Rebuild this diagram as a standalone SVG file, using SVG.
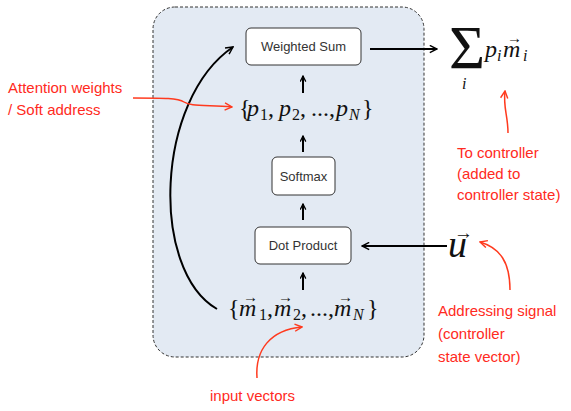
<svg xmlns="http://www.w3.org/2000/svg" width="571" height="411" viewBox="0 0 571 411">
<defs>
<marker id="ah" viewBox="0 0 10 10" refX="9" refY="5" markerWidth="9" markerHeight="9" markerUnits="userSpaceOnUse" orient="auto">
<path d="M1,1 L9,5 L1,9" fill="none" stroke="#000" stroke-width="1.6"/>
</marker>
<marker id="ahs" viewBox="0 0 10 10" refX="9" refY="5" markerWidth="7" markerHeight="7" markerUnits="userSpaceOnUse" orient="auto">
<path d="M1,1 L9,5 L1,9" fill="none" stroke="#000" stroke-width="1.8"/>
</marker>
<marker id="ahr" viewBox="0 0 10 10" refX="9" refY="5" markerWidth="9" markerHeight="9" markerUnits="userSpaceOnUse" orient="auto">
<path d="M1,1 L9,5 L1,9" fill="none" stroke="#ff3a1e" stroke-width="1.6"/>
</marker>
</defs>
<style>
.box{fill:#fff;stroke:#333;stroke-width:1}
.lbl{font-family:"Liberation Sans",Arial,sans-serif;font-size:13px;fill:#333;text-anchor:middle}
.red{font-family:"Liberation Sans",Arial,sans-serif;font-size:15px;fill:#ff2a22}
.m{font-family:"Liberation Serif","Times New Roman",serif;font-size:24px;fill:#111}
.mi{font-style:italic}
.sub{font-family:"Liberation Serif","Times New Roman",serif;font-size:16px;fill:#111}
.vec{font-family:"Liberation Serif","DejaVu Serif",serif;font-size:15px;fill:#111}
.c{fill:none;stroke:#000;stroke-width:2}
.cs{fill:none;stroke:#000;stroke-width:2}
.cr{fill:none;stroke:#ff3a1e;stroke-width:1.5}
</style>
<rect id="container" x="153" y="7" width="271" height="350" rx="22" ry="22" fill="#e3eaf3" stroke="#333" stroke-width="1" stroke-dasharray="3,2"/>

<g id="weighted-sum">
<rect class="box" x="246" y="28" width="115" height="37" rx="5"/>
<text class="lbl" x="303.5" y="51">Weighted Sum</text>
</g>
<g id="softmax">
<rect class="box" x="272" y="157" width="63" height="38" rx="5"/>
<text class="lbl" x="303.5" y="181">Softmax</text>
</g>
<g id="dot-product">
<rect class="box" x="255" y="227" width="96" height="37" rx="5"/>
<text class="lbl" x="303" y="250">Dot Product</text>
</g>

<g id="p-set">
<text class="m" x="239" y="116">{</text>
<text class="m mi" x="247" y="116">p</text>
<text class="sub" x="260" y="120">1</text>
<text class="m" x="268" y="116">,</text>
<text class="m mi" x="279" y="116">p</text>
<text class="sub" x="292" y="120">2</text>
<text class="m" x="300" y="116">,</text>
<text class="m" x="311" y="116">...,</text>
<text class="m mi" x="336" y="116">p</text>
<text class="sub mi" x="349" y="120">N</text>
<text class="m" x="362" y="116">}</text>
</g>

<g id="m-set">
<text class="m" x="228" y="316">{</text>
<text class="m mi" x="239" y="316">m</text>
<text class="vec" x="243" y="302">→</text>
<text class="sub" x="259" y="320">1</text>
<text class="m" x="267" y="316">,</text>
<text class="m mi" x="274" y="316">m</text>
<text class="vec" x="278" y="302">→</text>
<text class="sub" x="293" y="320">2</text>
<text class="m" x="301" y="316">,</text>
<text class="m" x="310" y="316">...,</text>
<text class="m mi" x="334" y="316">m</text>
<text class="vec" x="338" y="302">→</text>
<text class="sub mi" x="353" y="320">N</text>
<text class="m" x="367" y="316">}</text>
</g>

<g id="sum">
<text x="449" y="68" font-family="'Liberation Serif','Times New Roman',serif" font-size="62" fill="#111">Σ</text>
<text class="sub mi" x="462" y="89">i</text>
<text class="m mi" x="485" y="57">p</text>
<text class="sub mi" x="497" y="61">i</text>
<text class="m mi" x="503" y="57">m</text>
<text class="vec" x="507" y="43">→</text>
<text class="sub mi" x="523" y="61">i</text>
</g>

<g id="u-vec">
<text x="448" y="257" font-family="'Liberation Serif','Times New Roman',serif" font-style="italic" font-size="38" fill="#111">u</text>
<text x="454" y="239" font-family="'Liberation Serif','DejaVu Serif',serif" font-size="19" fill="#111">→</text>
</g>

<g id="connectors">
<path class="c" d="M370,49 L437,49" marker-end="url(#ah)"/>
<path class="c" d="M447,246 L362,246" marker-end="url(#ah)"/>
<path class="c" d="M217,309 C150,270 155,100 233,47" marker-end="url(#ah)"/>
<path class="cs" d="M303,93 L303,76" marker-end="url(#ahs)"/>
<path class="cs" d="M303,152 L303,136" marker-end="url(#ahs)"/>
<path class="cs" d="M303,220 L303,204" marker-end="url(#ahs)"/>
<path class="cs" d="M303,290 L303,273" marker-end="url(#ahs)"/>
<path class="cr" d="M133,98 C165,98 178,98 184,102 C190,106 200,105 232,107" marker-end="url(#ahr)"/>
<path class="cr" d="M508,133 C508,115 503,108 505,91" marker-end="url(#ahr)"/>
<path class="cr" d="M510,290 C510,262 500,248 480,242" marker-end="url(#ahr)"/>
<path class="cr" d="M257,378 C255,350 270,330 302,327" marker-end="url(#ahr)"/>
</g>

<g id="labels">
<text class="red" x="8" y="93">Attention weights</text>
<text class="red" x="8" y="115">/ Soft address</text>
<text class="red" x="457" y="158">To controller</text>
<text class="red" x="457" y="179">(added to</text>
<text class="red" x="457" y="200">controller state)</text>
<text class="red" x="438" y="316">Addressing signal</text>
<text class="red" x="438" y="339">(controller</text>
<text class="red" x="438" y="362">state vector)</text>
<text class="red" x="210" y="401">input vectors</text>
</g>
</svg>
